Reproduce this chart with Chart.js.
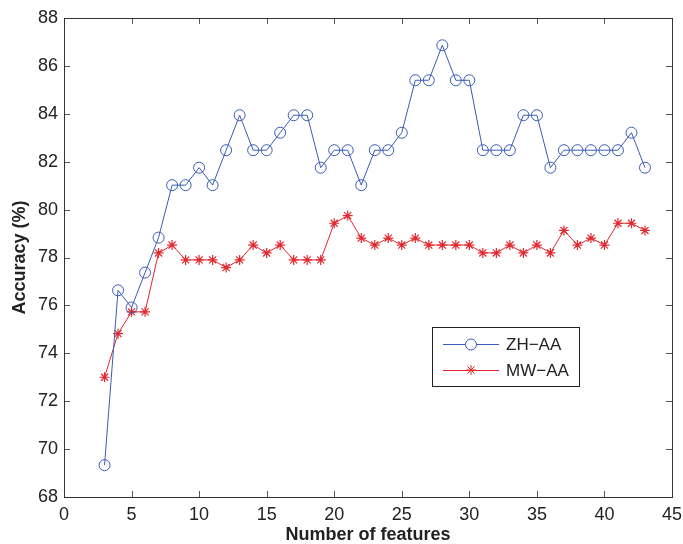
<!DOCTYPE html>
<html>
<head>
<meta charset="utf-8">
<script src="https://cdn.jsdelivr.net/npm/chart.js@4.4.1/dist/chart.umd.min.js"></script>
<style>
html, body { margin: 0; padding: 0; background: #fff; }
#wrap { width: 683px; height: 544px; }
</style>
</head>
<body>
<div id="wrap"><canvas id="accChart" width="683" height="544"></canvas></div>
<script>
// number of features on the x axis
const features = [3, 4, 5, 6, 7, 8, 9, 10, 11, 12, 13, 14, 15, 16, 17, 18, 19, 20, 21, 22, 23,
    24, 25, 26, 27, 28, 29, 30, 31, 32, 33, 34, 35, 36, 37, 38, 39, 40, 41, 42, 43];

// accuracy (%) per series
const zhAA = [69.33, 76.63, 75.91, 77.37, 78.83, 81.02, 81.02, 81.75, 81.02, 82.48, 83.94,
    82.48, 82.48, 83.21, 83.94, 83.94, 81.75, 82.48, 82.48, 81.02, 82.48, 82.48, 83.21,
    85.40, 85.40, 86.86, 85.40, 85.40, 82.48, 82.48, 82.48, 83.94, 83.94, 81.75, 82.48,
    82.48, 82.48, 82.48, 82.48, 83.21, 81.75];
const mwAA = [73.00, 74.82, 75.73, 75.73, 78.19, 78.52, 77.90, 77.90, 77.90, 77.58, 77.90,
    78.52, 78.19, 78.52, 77.90, 77.90, 77.90, 79.43, 79.75, 78.81, 78.52, 78.81, 78.52,
    78.81, 78.52, 78.52, 78.52, 78.52, 78.19, 78.19, 78.52, 78.19, 78.52, 78.19, 79.13,
    78.52, 78.81, 78.52, 79.43, 79.43, 79.13];

const seriesNames = ['ZH\u2212AA', 'MW\u2212AA'];
const xTicks = [0, 5, 10, 15, 20, 25, 30, 35, 40, 45];
const yTicks = [68, 70, 72, 74, 76, 78, 80, 82, 84, 86, 88];

const blue = '#3a5cb6';
const red = '#e0282e';
const fontFamily = '"Liberation Sans", Arial, sans-serif';

function toPoints(xs, ys) {
    return xs.map((x, i) => ({ x: x, y: ys[i] }));
}

// MATLAB style: box around the axes with inward tick marks on all four sides
const boxTicks = {
    id: 'boxTicks',
    afterDraw(chart) {
        const ctx = chart.ctx;
        const area = chart.chartArea;
        const xs = chart.scales.x;
        const ys = chart.scales.y;
        const len = 6;
        ctx.save();
        ctx.strokeStyle = '#555';
        ctx.lineWidth = 1;
        ctx.beginPath();
        xTicks.forEach(v => {
            const px = Math.round(xs.getPixelForValue(v)) + 0.5;
            if (v === xTicks[0] || v === xTicks[xTicks.length - 1]) return;
            ctx.moveTo(px, area.bottom);
            ctx.lineTo(px, area.bottom - len);
            ctx.moveTo(px, area.top);
            ctx.lineTo(px, area.top + len);
        });
        yTicks.forEach(v => {
            const py = Math.round(ys.getPixelForValue(v)) + 0.5;
            if (v === yTicks[0] || v === yTicks[yTicks.length - 1]) return;
            ctx.moveTo(area.left, py);
            ctx.lineTo(area.left + len, py);
            ctx.moveTo(area.right, py);
            ctx.lineTo(area.right - len, py);
        });
        ctx.stroke();
        ctx.strokeStyle = '#333';
        ctx.strokeRect(Math.round(area.left) + 0.5, Math.round(area.top) + 0.5,
            Math.round(area.right - area.left), Math.round(area.bottom - area.top));
        ctx.restore();
    }
};

// legend box drawn inside the plot, like the original figure
const boxLegend = {
    id: 'boxLegend',
    afterDraw(chart) {
        const ctx = chart.ctx;
        const bx = 432, by = 327, bw = 147, bh = 59;
        ctx.save();
        ctx.fillStyle = '#fff';
        ctx.fillRect(bx, by, bw, bh);
        ctx.strokeStyle = '#222';
        ctx.lineWidth = 1;
        ctx.strokeRect(bx + 0.5, by + 0.5, bw, bh);
        chart.data.datasets.forEach((ds, i) => {
            const y = by + 17 + i * 26;
            ctx.strokeStyle = ds.borderColor;
            ctx.lineWidth = 1;
            ctx.beginPath();
            ctx.moveTo(bx + 11, y + 0.5);
            ctx.lineTo(bx + 67, y + 0.5);
            ctx.stroke();
            const mx = bx + 39;
            ctx.beginPath();
            if (ds.pointStyle === 'circle') {
                ctx.fillStyle = '#fff';
                ctx.arc(mx, y + 0.5, 5.5, 0, Math.PI * 2);
                ctx.fill();
            } else {
                const r = 5;
                for (let k = 0; k < 4; k++) {
                    const a = k * Math.PI / 4;
                    ctx.moveTo(mx - r * Math.cos(a), y - r * Math.sin(a));
                    ctx.lineTo(mx + r * Math.cos(a), y + r * Math.sin(a));
                }
            }
            ctx.stroke();
            ctx.fillStyle = '#222';
            ctx.font = '17px ' + fontFamily;
            ctx.textBaseline = 'middle';
            ctx.textAlign = 'left';
            ctx.fillText(ds.label, bx + 74, y + 1);
        });
        ctx.restore();
    }
};

const ctx = document.getElementById('accChart').getContext('2d');
new Chart(ctx, {
    type: 'line',
    data: {
        datasets: [{
            label: seriesNames[0],
            data: toPoints(features, zhAA),
            borderColor: blue,
            borderWidth: 1,
            pointStyle: 'circle',
            pointRadius: 5.5,
            pointBorderWidth: 1,
            pointBorderColor: blue,
            pointBackgroundColor: 'rgba(0,0,0,0)',
            tension: 0
        }, {
            label: seriesNames[1],
            data: toPoints(features, mwAA),
            borderColor: red,
            borderWidth: 1,
            pointStyle: 'star',
            pointRadius: 5,
            pointBorderWidth: 1.2,
            pointBorderColor: red,
            pointBackgroundColor: red,
            tension: 0
        }]
    },
    options: {
        responsive: false,
        animation: false,
        devicePixelRatio: 1,
        layout: { padding: { top: 18, right: 11, left: 0, bottom: 0 } },
        plugins: {
            legend: { display: false },
            tooltip: { enabled: false }
        },
        scales: {
            x: {
                type: 'linear',
                min: 0,
                max: 45,
                afterFit: scale => {
                    scale.height = 47;
                    scale.paddingLeft = 0;
                    scale.paddingRight = 0;
                },
                afterBuildTicks: scale => { scale.ticks = xTicks.map(v => ({ value: v })); },
                grid: { display: false, drawTicks: false, tickLength: 0 },
                border: { display: false },
                ticks: { color: '#222', padding: 7, font: { family: fontFamily, size: 18 } },
                title: {
                    display: true,
                    text: 'Number of features',
                    color: '#222',
                    padding: { top: 0, bottom: 0 },
                    font: { family: fontFamily, size: 18, weight: 'bold', lineHeight: 1 }
                }
            },
            y: {
                min: 68,
                max: 88,
                afterFit: scale => {
                    scale.width = 64;
                    scale.paddingTop = 0;
                    scale.paddingBottom = 0;
                },
                afterBuildTicks: scale => { scale.ticks = yTicks.map(v => ({ value: v })); },
                grid: { display: false, drawTicks: false, tickLength: 0 },
                border: { display: false },
                ticks: { color: '#222', padding: 6, font: { family: fontFamily, size: 18 } },
                title: {
                    display: true,
                    text: 'Accuracy (%)',
                    color: '#222',
                    padding: { top: 9, bottom: 0 },
                    font: { family: fontFamily, size: 18, weight: 'bold' }
                }
            }
        }
    },
    plugins: [boxTicks, boxLegend]
});
</script>
</body>
</html>
